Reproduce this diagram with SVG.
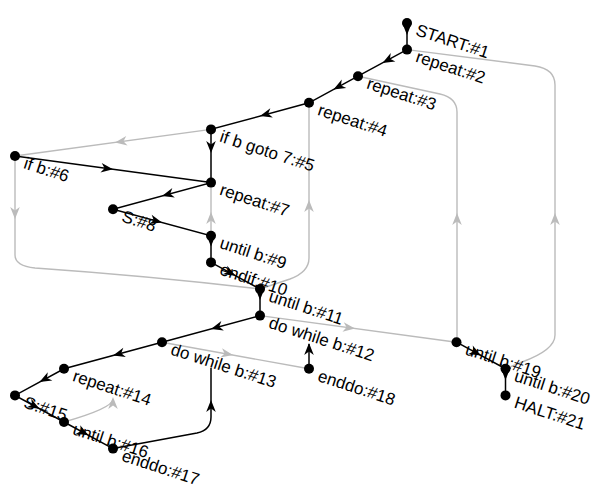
<svg xmlns="http://www.w3.org/2000/svg" xmlns:xlink="http://www.w3.org/1999/xlink" width="598" height="498" viewBox="0 0 598 498">
<style>
  .e { fill: none; stroke: #000; stroke-width: 1.5; }
  .g { fill: none; stroke: #bbbbbb; stroke-width: 1.4; }
  .ab { fill: #000; }
  .ag { fill: #bbbbbb; }
  .n circle { fill: #000; }
  .n text { font-family: "Liberation Sans", Arial, sans-serif; font-size: 17px; fill: #000; }
</style>
<defs>
  <path id="ah" d="M0,0 L-12,-4.8 L-8.5,0 L-12,4.8 Z"/>
</defs>
<rect width="598" height="498" fill="#fff"/>
<g id="connectors">
  <!-- gray edges -->
  <path class="g" d="M407,49.6 L535,66 Q555,69 555,85 L555,335 Q555,350 522,362 L505.5,368.8"/>
  <path class="g" d="M358,76.2 L440,94 Q457,98 457,112 L457,342.2"/>
  <path class="g" d="M309,102.8 L309,258 Q309,272 290,279 L260,289"/>
  <path class="g" d="M211,235.8 L211,182.6"/>
  <path class="g" d="M211,129.4 L15,156"/>
  <path class="g" d="M15,156 L15,255 Q15,266 35,268 Q150,276 260,289"/>
  <path class="g" d="M260,315.6 L456.5,342.2"/>
  <path class="g" d="M162,342.2 L309,368.8"/>
  <path class="g" d="M64,422 Q113,408 113,399"/>
  <use xlink:href="#ah" class="ag" transform="translate(555,213) rotate(-90)"/>
  <use xlink:href="#ah" class="ag" transform="translate(457,213) rotate(-90)"/>
  <use xlink:href="#ah" class="ag" transform="translate(309,200) rotate(-90)"/>
  <use xlink:href="#ah" class="ag" transform="translate(211,212) rotate(-90)"/>
  <use xlink:href="#ah" class="ag" transform="translate(115,142.4) rotate(172.3)"/>
  <use xlink:href="#ah" class="ag" transform="translate(15,219) rotate(90)"/>
  <use xlink:href="#ah" class="ag" transform="translate(355,328.5) rotate(7.7)"/>
  <use xlink:href="#ah" class="ag" transform="translate(233,355) rotate(10.3)"/>
  <use xlink:href="#ah" class="ag" transform="translate(113,397) rotate(-90)"/>
  <!-- black edges -->
  <path class="e" d="M407,23 L407,49.6 L358,76.2 L309,102.8 L211,129.4 L211,182.6 L113,209.2 L211,235.8 L211,262.4 L260,289 L260,315.6 L162,342.2 L64,368.8 L15,395.4 L64,422 L113,448.6"/>
  <path class="e" d="M15,156 L211,182.6"/>
  <path class="e" d="M456.5,342.2 L505.5,368.8 L505.5,395.4"/>
  <path class="e" d="M113,448.6 L197,433 Q211,430 211,417 L211,368"/>
  <path class="e" d="M309,368.8 L309,344"/>
  <use xlink:href="#ah" class="ab" transform="translate(407,35) rotate(90)"/>
  <use xlink:href="#ah" class="ab" transform="translate(382.5,62.9) rotate(151.5)"/>
  <use xlink:href="#ah" class="ab" transform="translate(333.5,89.5) rotate(151.5)"/>
  <use xlink:href="#ah" class="ab" transform="translate(260,116.1) rotate(164.8)"/>
  <use xlink:href="#ah" class="ab" transform="translate(211,153) rotate(90)"/>
  <use xlink:href="#ah" class="ab" transform="translate(113,169.3) rotate(7.7)"/>
  <use xlink:href="#ah" class="ab" transform="translate(162,195.9) rotate(164.8)"/>
  <use xlink:href="#ah" class="ab" transform="translate(162,222.5) rotate(15.2)"/>
  <use xlink:href="#ah" class="ab" transform="translate(211,246.5) rotate(90)"/>
  <use xlink:href="#ah" class="ab" transform="translate(235.5,275.7) rotate(28.5)"/>
  <use xlink:href="#ah" class="ab" transform="translate(260,300) rotate(90)"/>
  <use xlink:href="#ah" class="ab" transform="translate(211,328.9) rotate(164.8)"/>
  <use xlink:href="#ah" class="ab" transform="translate(113,355.5) rotate(164.8)"/>
  <use xlink:href="#ah" class="ab" transform="translate(39.5,382.1) rotate(151.5)"/>
  <use xlink:href="#ah" class="ab" transform="translate(39.5,408.7) rotate(28.5)"/>
  <use xlink:href="#ah" class="ab" transform="translate(88.5,435.3) rotate(28.5)"/>
  <use xlink:href="#ah" class="ab" transform="translate(481,355.5) rotate(28.5)"/>
  <use xlink:href="#ah" class="ab" transform="translate(505.5,380) rotate(90)"/>
  <use xlink:href="#ah" class="ab" transform="translate(211,400) rotate(-90)"/>
  <use xlink:href="#ah" class="ab" transform="translate(309,343) rotate(-90)"/>
</g>
<g id="n1" class="n" transform="translate(407,23)"><circle r="5"/><text transform="rotate(18)" x="11" y="9">START:#1</text></g>
<g id="n2" class="n" transform="translate(407,49.6)"><circle r="5"/><text transform="rotate(18)" x="11" y="9">repeat:#2</text></g>
<g id="n3" class="n" transform="translate(358,76.2)"><circle r="5"/><text transform="rotate(18)" x="11" y="9">repeat:#3</text></g>
<g id="n4" class="n" transform="translate(309,102.8)"><circle r="5"/><text transform="rotate(18)" x="11" y="9">repeat:#4</text></g>
<g id="n5" class="n" transform="translate(211,129.4)"><circle r="5"/><text transform="rotate(18)" x="11" y="9">if b goto 7:#5</text></g>
<g id="n6" class="n" transform="translate(15,156)"><circle r="5"/><text transform="rotate(18)" x="11" y="9">if b:#6</text></g>
<g id="n7" class="n" transform="translate(211,182.6)"><circle r="5"/><text transform="rotate(18)" x="11" y="9">repeat:#7</text></g>
<g id="n8" class="n" transform="translate(113,209.2)"><circle r="5"/><text transform="rotate(18)" x="11" y="9">S:#8</text></g>
<g id="n9" class="n" transform="translate(211,235.8)"><circle r="5"/><text transform="rotate(18)" x="11" y="9">until b:#9</text></g>
<g id="n10" class="n" transform="translate(211,262.4)"><circle r="5"/><text transform="rotate(18)" x="11" y="9">endif:#10</text></g>
<g id="n11" class="n" transform="translate(260,289)"><circle r="5"/><text transform="rotate(18)" x="11" y="9">until b:#11</text></g>
<g id="n12" class="n" transform="translate(260,315.6)"><circle r="5"/><text transform="rotate(18)" x="11" y="9">do while b:#12</text></g>
<g id="n13" class="n" transform="translate(162,342.2)"><circle r="5"/><text transform="rotate(18)" x="11" y="9">do while b:#13</text></g>
<g id="n14" class="n" transform="translate(64,368.8)"><circle r="5"/><text transform="rotate(18)" x="11" y="9">repeat:#14</text></g>
<g id="n15" class="n" transform="translate(15,395.4)"><circle r="5"/><text transform="rotate(18)" x="11" y="9">S:#15</text></g>
<g id="n16" class="n" transform="translate(64,422)"><circle r="5"/><text transform="rotate(18)" x="11" y="9">until b:#16</text></g>
<g id="n17" class="n" transform="translate(113,448.6)"><circle r="5"/><text transform="rotate(18)" x="11" y="9">enddo:#17</text></g>
<g id="n18" class="n" transform="translate(309,368.8)"><circle r="5"/><text transform="rotate(18)" x="11" y="9">enddo:#18</text></g>
<g id="n19" class="n" transform="translate(456.5,342.2)"><circle r="5"/><text transform="rotate(18)" x="11" y="9">until b:#19</text></g>
<g id="n20" class="n" transform="translate(505.5,368.8)"><circle r="5"/><text transform="rotate(18)" x="11" y="9">until b:#20</text></g>
<g id="n21" class="n" transform="translate(505.5,395.4)"><circle r="5"/><text transform="rotate(18)" x="11" y="9">HALT:#21</text></g>
</svg>
